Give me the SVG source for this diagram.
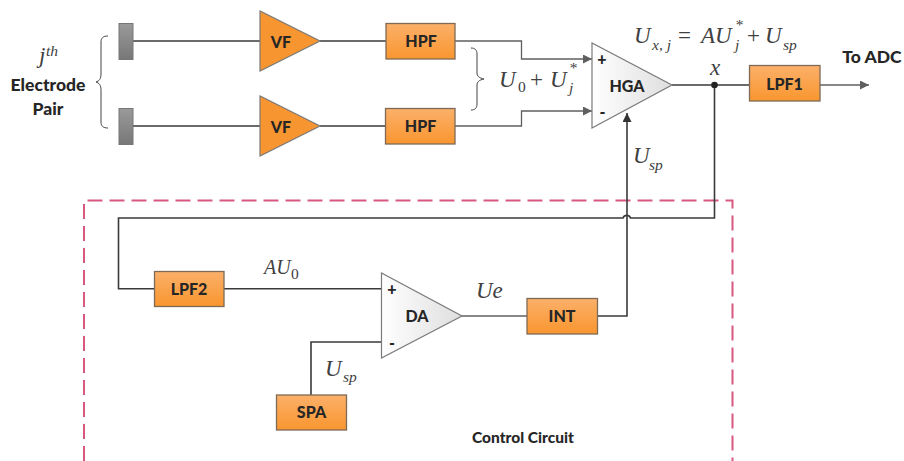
<svg xmlns="http://www.w3.org/2000/svg" width="904" height="461" viewBox="0 0 904 461">
<style>
.box{fill:url(#org);stroke:#7f6a55;stroke-width:1.3}
.vf{fill:#f79530;stroke:#7a7a7a;stroke-width:1.2}
.amp{fill:url(#gry);stroke:#7a7a7a;stroke-width:1.2}
.el{fill:url(#elg);stroke:#777;stroke-width:1}
.w{fill:none;stroke:#3a3a3a;stroke-width:1.6}
.g{fill:none;stroke:#5f5f5f;stroke-width:1.3}
.br{fill:none;stroke:#444;stroke-width:1}
.t{font-family:Lato,Carlito,"Liberation Sans",sans-serif;font-weight:900;fill:#262626;text-anchor:middle;font-size:16px}
.l{font-size:17.500px}
.b{font-size:15.500px}
.m{font-family:"Liberation Serif",serif;font-style:italic;fill:#404040;font-size:23px}
.a{font-size:20px}
.u{font-size:15.500px}
.n{font-style:normal}
</style>
<defs>
<linearGradient id="org" x1="0" y1="0" x2="0" y2="1"><stop offset="0" stop-color="#fbb06a"/><stop offset="1" stop-color="#f9962f"/></linearGradient>
<linearGradient id="gry" x1="0" y1="0" x2="1" y2="0"><stop offset="0" stop-color="#ffffff"/><stop offset="1" stop-color="#dedede"/></linearGradient>
<linearGradient id="elg" x1="0" y1="0" x2="0" y2="1"><stop offset="0" stop-color="#9a9a9a"/><stop offset="1" stop-color="#777"/></linearGradient>
<marker id="ag" markerUnits="userSpaceOnUse" markerWidth="10" markerHeight="10" refX="9" refY="4.500" orient="auto"><path d="M0 0L9 4.500L0 9z" fill="#5f5f5f"/></marker>
<marker id="ad" markerUnits="userSpaceOnUse" markerWidth="10" markerHeight="10" refX="9" refY="4.500" orient="auto"><path d="M0 0L9 4.500L0 9z" fill="#333"/></marker>
</defs>

<g id="boundary"><path d="M84 461V200.500H732.500V461" fill="none" stroke="#d8587f" stroke-width="2" stroke-dasharray="15 7"/></g>

<g id="connectors">
<path class="w" d="M133 41H260M320 41H386M133 126H260M320 126H385"/>
<path class="g" d="M455 41H521.500V59H592" marker-end="url(#ag)"/>
<path class="g" d="M455 126H521.500V111H592" marker-end="url(#ag)"/>
<path class="w" d="M672 85H749"/>
<path class="g" d="M820 85H869" marker-end="url(#ag)"/>
<path class="w" d="M714.500 85V218H630.500A4 4 0 0 0 623 218H118.500V288.700H154"/>
<path class="w" d="M224 288.700H381.500"/>
<path class="w" d="M381.500 342H311V395"/>
<path class="g" d="M462 316H527"/>
<path class="w" d="M597.500 316H627V113" marker-end="url(#ad)"/>
<circle cx="714.500" cy="85" r="3.300" fill="#222"/>
</g>

<g id="brace-left"><path class="br" d="M108 36C103 36 101 38 101 42V74C101 79 99 81 96 82C99 83 101 85 101 90V122C101 126 103 128 108 128"/></g>
<g id="brace-right"><path class="br" d="M471 48C475 48 477 50 477 54V73C477 76 479 78 484 79C479 80 477 82 477 85V104C477 108 475 110 471 110"/></g>

<g id="electrode1"><rect class="el" x="119" y="23.500" width="14" height="36"/></g>
<g id="electrode2"><rect class="el" x="119" y="108.500" width="14" height="36"/></g>

<g id="vf1"><path class="vf" d="M260 11V71L320 41z"/><text class="t" x="281" y="48">VF</text></g>
<g id="vf2"><path class="vf" d="M260 96V156L320 126z"/><text class="t" x="281" y="133">VF</text></g>
<g id="hpf1"><rect class="box" x="386" y="23.500" width="69" height="35.500"/><text class="t" x="421" y="47">HPF</text></g>
<g id="hpf2"><rect class="box" x="385.500" y="108.500" width="69.500" height="35.500"/><text class="t" x="420.500" y="132">HPF</text></g>

<g id="hga"><path class="amp" d="M592 43V128L672 85z"/><text class="t" x="627" y="92">HGA</text><text class="t" x="602" y="65">+</text><text class="t" x="602.500" y="118">-</text></g>
<g id="lpf1"><rect class="box" x="749.500" y="65.500" width="70.500" height="35.500"/><text class="t" x="784.500" y="90">LPF1</text></g>
<g id="lpf2"><rect class="box" x="154.500" y="271.500" width="69.500" height="35"/><text class="t" x="189" y="295">LPF2</text></g>
<g id="da"><path class="amp" d="M381.500 273V358L462 316z"/><text class="t" x="417" y="322">DA</text><text class="t" x="392" y="295">+</text><text class="t" x="392" y="349">-</text></g>
<g id="spa"><rect class="box" x="276.500" y="395" width="70" height="35"/><text class="t" x="311.500" y="418">SPA</text></g>
<g id="int"><rect class="box" x="527" y="298.500" width="70.500" height="35.500"/><text class="t" x="562" y="322">INT</text></g>

<g id="labels">
<text class="t l" x="48" y="91">Electrode</text>
<text class="t l" x="48" y="115">Pair</text>
<text class="t b" x="523" y="443">Control Circuit</text>
<text class="t l" x="872" y="63">To ADC</text>
<text class="m" x="39" y="63">j</text><text class="m u" x="46" y="56">th</text>
<text class="m" x="499" y="87">U</text><text class="m u n" x="518" y="92">0</text><text class="m n" x="530" y="87">+</text><text class="m" x="550" y="87">U</text><text class="m u" x="569" y="73">*</text><text class="m u" x="569" y="93">j</text>
<text class="m" x="634" y="43">U</text><text class="m u" x="652" y="50">x, j</text><text class="m n" x="678" y="43">=</text><text class="m" x="701" y="43">AU</text><text class="m u" x="735" y="30">*</text><text class="m u" x="735" y="50">j</text><text class="m n" x="747" y="43">+</text><text class="m" x="765" y="43">U</text><text class="m u" x="783" y="50">sp</text>
<text class="m" x="710" y="75">x</text>
<text class="m" x="633" y="163">U</text><text class="m u" x="649" y="170">sp</text>
<text class="m a" x="264" y="274">AU</text><text class="m u n" x="291" y="279">0</text>
<text class="m" x="325" y="376">U</text><text class="m u" x="343" y="382">sp</text>
<text class="m" x="476" y="298">Ue</text>
</g>
</svg>
